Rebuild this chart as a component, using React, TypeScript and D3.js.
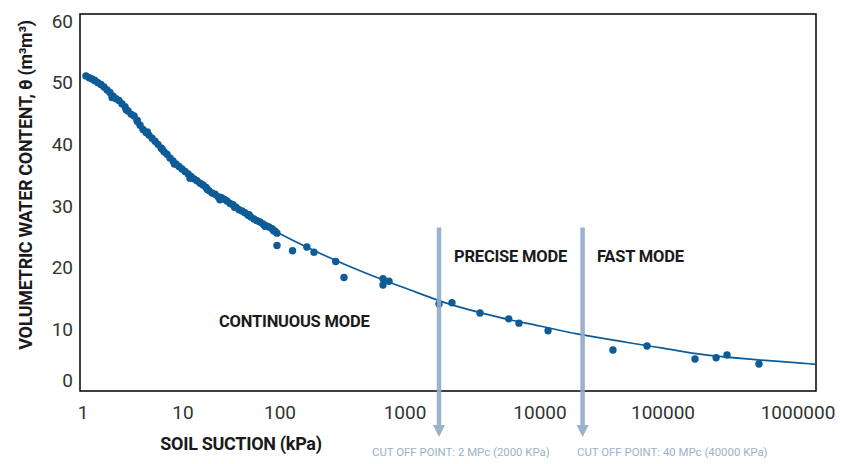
import { useEffect, useRef } from "react";
import * as d3 from "d3";

// soil water retention data (suction in kPa, theta in %)
const continuousSuction = [
  1.07, 1.15, 1.23, 1.32, 1.41, 1.51, 1.62, 1.74, 1.86, 2.0, 2.14, 2.29, 2.45, 2.63, 2.82, 3.02,
  3.24, 3.47, 3.72, 3.98, 4.27, 4.57, 4.9, 5.25, 5.62, 6.03, 6.46, 6.92, 7.41, 7.94, 8.51, 9.12,
  9.77, 10.5, 11.3, 12.1, 13.0, 13.9, 15.0, 16.1, 17.3, 18.5, 19.9, 21.4, 23.0, 24.7, 26.5, 28.4,
  30.5, 32.8, 35.2, 37.8, 40.6, 43.5, 46.8, 50.2, 53.9, 57.9, 62.2, 66.8, 71.7, 77.1, 82.8, 88.8,
  93.1, 1.3, 1.95, 2.7, 3.5, 4.4, 6.2, 8.2, 11.8, 17.8, 24.0, 34.0, 48.0, 70.0, 86.0,
];
const continuousTheta = [
  51.1, 50.8, 50.6, 50.3, 50.0, 49.7, 49.3, 48.8, 48.4, 47.8, 47.4, 47.1, 46.6, 46.1, 45.4, 44.9,
  44.6, 43.9, 43.1, 42.4, 41.9, 41.5, 41.0, 40.5, 40.0, 39.4, 38.8, 38.4, 37.8, 37.3, 36.8, 36.4,
  36.0, 35.6, 35.2, 34.8, 34.4, 34.1, 33.7, 33.4, 33.0, 32.5, 32.1, 31.9, 31.5, 31.4, 31.1, 30.8,
  30.4, 30.2, 29.8, 29.4, 29.2, 28.9, 28.5, 28.2, 27.9, 27.6, 27.4, 27.1, 26.8, 26.6, 26.3, 25.9,
  25.6, 50.4, 47.6, 45.6, 43.7, 42.0, 39.2, 36.8, 34.5, 32.7, 31.0, 29.8, 28.6, 26.7, 26.0,
];

const discreteSuction = [
  93.1, 126, 164, 187, 279, 325, 667, 667, 745, 1786, 2228, 3593, 5867, 6985, 11620, 39170, 74130,
  172600, 247400, 298100, 514000,
];
const discreteTheta = [
  23.6, 22.75, 23.35, 22.5, 21.0, 18.4, 18.2, 17.2, 17.8, 14.1, 14.3, 12.65, 11.7, 11.0, 9.78, 6.65,
  7.3, 5.19, 5.4, 5.84, 4.38,
];

// fitted retention curve
const fitSuction = [1, 2, 5, 10, 20, 50, 100, 200, 500, 1000, 2000, 5000, 10000, 20000, 50000, 100000, 200000, 500000, 1000000, 1360000];
const fitTheta = [51.2, 47.8, 40.9, 35.9, 32.1, 28.2, 25.5, 22.5, 19.0, 16.7, 14.3, 11.95, 10.54, 9.27, 7.91, 6.94, 5.89, 5.06, 4.56, 4.33];

const xTicks = [1, 10, 100, 1000, 10000, 100000, 1000000];
const yTicks = [0, 10, 20, 30, 40, 50, 60];

const cutoffSuction = [1786, 22200];
const cutoffLabels = ["CUT OFF POINT: 2 MPc (2000 KPa)", "CUT OFF POINT: 40 MPc (40000 KPa)"];
const modeLabels = ["CONTINUOUS MODE", "PRECISE MODE", "FAST MODE"];

const W = 841, H = 464;
const font = "Roboto, 'DejaVu Sans', sans-serif";
const blue = "#0d5c97";
const steel = "#92acc6";

const App = () => {
  const ref = useRef<SVGSVGElement>(null);

  useEffect(() => {
    const svg = d3.select(ref.current);
    svg.selectAll("*").remove();

    // the printed axis is not evenly spaced per decade, so map each decade
    const x = d3.scaleLog().domain(xTicks).range([83, 183, 280, 405, 540, 663, 798]);
    const y = d3.scaleLinear().domain([0, 60]).range([391, 21]);

    svg.append("rect").attr("width", W).attr("height", H).attr("fill", "#fff");

    // plot frame
    svg.append("rect")
      .attr("x", 80).attr("y", 14)
      .attr("width", 736).attr("height", 377)
      .attr("fill", "none").attr("stroke", "#111").attr("stroke-width", 1.6);

    // y ticks
    svg.append("g").selectAll("text").data(yTicks).join("text")
      .attr("x", 73)
      .attr("y", (d) => Math.min(y(d), 380))
      .attr("text-anchor", "end")
      .attr("dominant-baseline", "central")
      .attr("font-family", font).attr("font-size", 19).attr("fill", "#333")
      .text((d) => d);

    // x ticks
    svg.append("g").selectAll("text").data(xTicks).join("text")
      .attr("x", (d) => x(d))
      .attr("y", 419)
      .attr("text-anchor", "middle")
      .attr("font-family", font).attr("font-size", 19).attr("fill", "#333")
      .text((d) => d);

    // axis titles
    svg.append("text")
      .attr("x", 241).attr("y", 450)
      .attr("text-anchor", "middle")
      .attr("font-family", font).attr("font-size", 18).attr("font-weight", 700).attr("fill", "#1a1a1a")
      .attr("letter-spacing", -0.3)
      .text("SOIL SUCTION (kPa)");
    svg.append("text")
      .attr("transform", "translate(32,185) rotate(-90)")
      .attr("text-anchor", "middle")
      .attr("font-family", font).attr("font-size", 18).attr("font-weight", 700).attr("fill", "#1a1a1a")
      .attr("letter-spacing", -0.3)
      .text("VOLUMETRIC WATER CONTENT, θ (m³m³)");

    // fitted curve
    const fit = fitSuction.map((s, i) => [s, fitTheta[i]]);
    svg.append("path")
      .datum(fit)
      .attr("fill", "none")
      .attr("stroke", blue)
      .attr("stroke-width", 1.7)
      .attr("d", d3.line<number[]>()
        .x((d) => x(d[0]))
        .y((d) => y(d[1]))
        .curve(d3.curveMonotoneX));

    // measured points
    const pts = continuousSuction.map((s, i) => [s, continuousTheta[i]])
      .concat(discreteSuction.map((s, i) => [s, discreteTheta[i]]));
    svg.append("g").selectAll("circle").data(pts).join("circle")
      .attr("cx", (d) => x(d[0]))
      .attr("cy", (d) => y(d[1]))
      .attr("r", 3.7)
      .attr("fill", blue);

    // mode labels
    const modePos = [[219, 321], [454, 256], [597, 256]];
    svg.append("g").selectAll("text").data(modeLabels).join("text")
      .attr("x", (d, i) => modePos[i][0])
      .attr("y", (d, i) => modePos[i][1])
      .attr("dominant-baseline", "central")
      .attr("font-family", font).attr("font-size", 16.5).attr("font-weight", 700).attr("fill", "#1a1a1a")
      .attr("letter-spacing", -0.2)
      .text((d) => d);

    // cut off arrows
    const g = svg.append("g").attr("opacity", 0.92);
    cutoffSuction.forEach((c) => {
      const cx = x(c);
      g.append("line")
        .attr("x1", cx).attr("x2", cx)
        .attr("y1", y(26.5)).attr("y2", 427)
        .attr("stroke", steel).attr("stroke-width", 4.5);
      g.append("path")
        .attr("d", `M${cx - 6},425 L${cx + 6},425 L${cx},437 Z`)
        .attr("fill", steel);
    });

    const cutLabelX = [372, 577];
    svg.append("g").selectAll("text").data(cutoffLabels).join("text")
      .attr("x", (d, i) => cutLabelX[i])
      .attr("y", 452)
      .attr("dominant-baseline", "central")
      .attr("font-family", font).attr("font-size", 11.4).attr("fill", "#9ab2ca")
      .text((d) => d);
  }, []);

  return (
    <svg ref={ref} width={W} height={H} style={{ position: "absolute", left: 0, top: 0 }} />
  );
};

export default App;
